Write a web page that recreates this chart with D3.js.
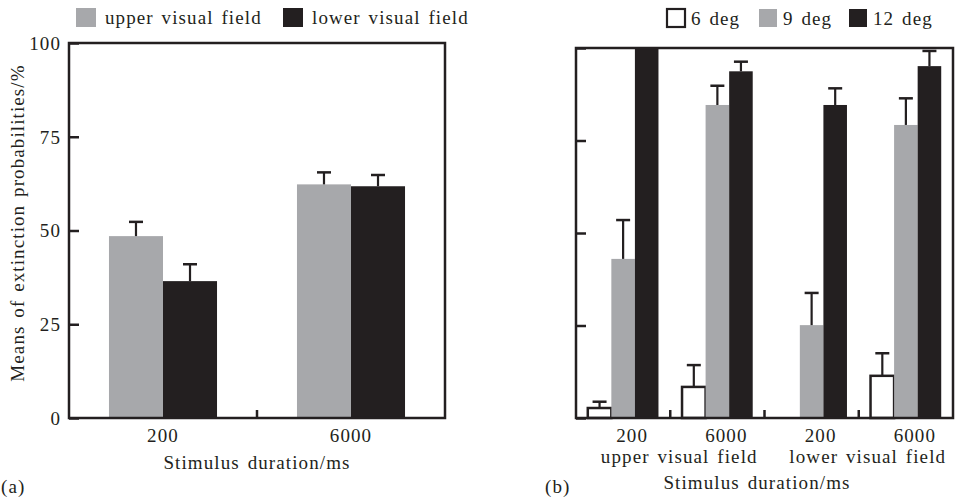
<!DOCTYPE html>
<html>
<head>
<meta charset="utf-8">
<script src="https://cdn.jsdelivr.net/npm/d3@7"></script>
<style>
  body { margin: 0; background: #fff; }
  text { font-family: "Liberation Serif", "Times New Roman", serif; fill: #231f20; letter-spacing: 1.1px; word-spacing: 2px; }
</style>
</head>
<body>
<svg id="chart" width="957" height="498"></svg>
<script>
// panel (a)
const durationsA = ["200", "6000"]
const fieldsA = ["upper visual field", "lower visual field"]
const meansA = [[48.5, 36.5], [62.3, 61.8]]
const errA = [[3.8, 4.5], [3.2, 3.0]]

// panel (b)
const groupsB = ["200", "6000", "200", "6000"]
const fieldLabelsB = ["upper visual field", "lower visual field"]
const degreesB = ["6 deg", "9 deg", "12 deg"]
const meansB = [[2.7, 43, 100], [8.4, 84.6, 93.7], [0, 25.1, 84.6], [11.4, 79.2, 95.1]]
const errB = [[1.7, 10.5, 0], [5.9, 5.2, 2.6], [0, 8.7, 4.5], [6.1, 7.2, 4.1]]

const yTicks = [0, 25, 50, 75, 100]

const ink = "#231f20", grey = "#a7a8ab"
const fs = 19
const svg = d3.select("#chart")

function panel(o) {
  const g = svg.append("g")
  const y = d3.scaleLinear().domain([0, 100]).range([o.bottom, o.top])
  const x0 = d3.scaleBand().domain(d3.range(o.cats.length)).range([o.left, o.right])
  const x1 = d3.scaleBand().domain(d3.range(o.series.length))
               .range([0, x0.bandwidth()]).paddingOuter(o.outer)

  const yAxis = d3.axisLeft(y).tickValues(yTicks).tickSizeInner(-10).tickSizeOuter(0)
                  .tickPadding(8).tickFormat(o.yLabels ? d3.format("d") : "")
  const ga = g.append("g").attr("transform", `translate(${o.left},0)`).call(yAxis)
  ga.select(".domain").remove()
  ga.selectAll("line").attr("stroke", ink).attr("stroke-width", 2.5)
  ga.selectAll("text").attr("font-size", fs).style("font-family", "Liberation Serif").attr("dy", "0.34em")

  const grp = g.selectAll("g.grp").data(o.means).join("g")
    .attr("transform", (d, i) => `translate(${x0(i)},0)`)

  grp.selectAll("rect").data(d => d).join("rect")
    .attr("x", (d, j) => x1(j))
    .attr("width", x1.bandwidth())
    .attr("y", d => y(d))
    .attr("height", d => y(0) - y(d))
    .attr("fill", (d, j) => o.colors[j])
    .attr("stroke", (d, j) => o.colors[j] == "#fff" ? ink : "none")
    .attr("stroke-width", 2.5)

  grp.each(function(d, i) {
    const eg = d3.select(this).selectAll("g.err")
      .data(d.map((v, j) => ({ v, e: o.errs[i][j], j })).filter(p => p.e > 0))
      .join("g")
    eg.append("line")
      .attr("x1", p => x1(p.j) + x1.bandwidth() / 2).attr("x2", p => x1(p.j) + x1.bandwidth() / 2)
      .attr("y1", p => y(p.v)).attr("y2", p => y(p.v + p.e))
      .attr("stroke", ink).attr("stroke-width", 2.2)
    eg.append("line")
      .attr("x1", p => x1(p.j) + x1.bandwidth() / 2 - 7).attr("x2", p => x1(p.j) + x1.bandwidth() / 2 + 7)
      .attr("y1", p => y(p.v + p.e)).attr("y2", p => y(p.v + p.e))
      .attr("stroke", ink).attr("stroke-width", 2.5)
  })

  // bottom ticks between groups
  g.selectAll("line.bt").data(d3.range(1, o.cats.length)).join("line")
    .attr("x1", i => x0(i)).attr("x2", i => x0(i))
    .attr("y1", o.bottom).attr("y2", o.bottom - 8)
    .attr("stroke", ink).attr("stroke-width", 2.5)

  g.append("rect")
    .attr("x", o.left).attr("y", o.top)
    .attr("width", o.right - o.left).attr("height", o.bottom - o.top)
    .attr("fill", "none").attr("stroke", ink).attr("stroke-width", 2.5)

  g.selectAll("text.xl").data(o.cats).join("text")
    .attr("x", (d, i) => x0(i) + x0.bandwidth() / 2 + o.labelDx)
    .attr("y", 442).attr("text-anchor", "middle").attr("font-size", fs)
    .text(d => d)

  return { g, x0, y }
}

// ---- (a)
const a = panel({
  left: 69, right: 445, top: 43, bottom: 418,
  cats: durationsA, series: fieldsA, means: meansA, errs: errA,
  colors: [grey, ink], outer: 0.74, yLabels: true, labelDx: 0
})
a.g.append("text").attr("x", 257).attr("y", 469).attr("text-anchor", "middle")
  .attr("font-size", fs).text("Stimulus duration/ms")
a.g.append("text").attr("transform", "translate(24,223) rotate(-90)")
  .attr("text-anchor", "middle").attr("font-size", fs).text("Means of extinction probabilities/%")
a.g.append("text").attr("x", 1).attr("y", 493).attr("font-size", fs).text("(a)")

const legA = a.g.selectAll("g.leg").data(fieldsA).join("g")
  .attr("transform", (d, i) => `translate(${[76, 283][i]},8)`)
legA.append("rect").attr("width", 20).attr("height", 19)
  .attr("fill", (d, i) => [grey, ink][i])
legA.append("text").attr("x", 29).attr("y", 16).attr("font-size", fs).text(d => d)

// ---- (b)
const b = panel({
  left: 576, right: 953, top: 48, bottom: 418,
  cats: groupsB, series: degreesB, means: meansB, errs: errB,
  colors: ["#fff", grey, ink], outer: 0.5, yLabels: false, labelDx: 9
})
b.g.selectAll("text.fl").data(fieldLabelsB).join("text")
  .attr("x", (d, i) => b.x0(i * 2 + 1) + 9).attr("y", 463)
  .attr("text-anchor", "middle").attr("font-size", fs)
  .text(d => d)
b.g.append("text").attr("x", 757).attr("y", 489).attr("text-anchor", "middle")
  .attr("font-size", fs).text("Stimulus duration/ms")
b.g.append("text").attr("x", 545).attr("y", 493).attr("font-size", fs).text("(b)")

const legB = b.g.selectAll("g.leg").data(degreesB).join("g")
  .attr("transform", (d, i) => `translate(${[667, 759, 849][i]},9)`)
legB.append("rect").attr("width", 18).attr("height", 18)
  .attr("fill", (d, i) => ["#fff", grey, ink][i])
  .attr("stroke", (d, i) => i == 0 ? ink : "none").attr("stroke-width", 2.2)
legB.append("text").attr("x", 24).attr("y", 16).attr("font-size", fs).text(d => d)
</script>
</body>
</html>
